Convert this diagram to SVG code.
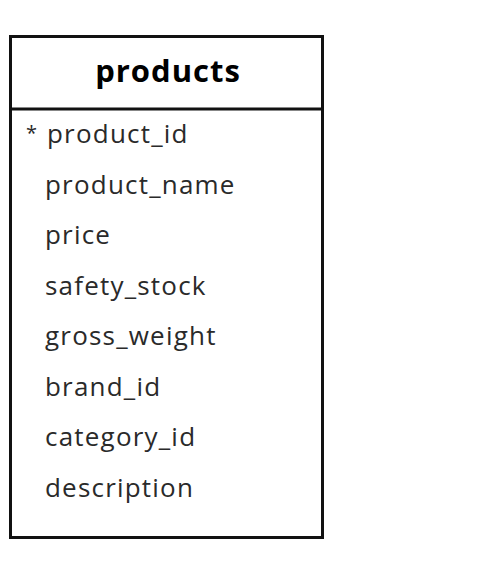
<svg xmlns="http://www.w3.org/2000/svg" width="490" height="568" viewBox="0 0 490 568">
<style>
.box{fill:#fff;stroke:#111;stroke-width:3}
.title{font-family:"Open Sans","Noto Sans",sans-serif;font-weight:bold;font-size:31px;letter-spacing:1px;fill:#000;text-anchor:middle}
.col{font-family:"Open Sans","Noto Sans",sans-serif;font-size:26px;letter-spacing:1.2px;fill:#2a2a2a}
.star{font-size:20px}
</style>
<rect width="490" height="568" fill="#fff"/>
<g id="products">
<rect class="box" x="10.5" y="36.5" width="312" height="501"/>
<line class="box" x1="10.5" y1="109" x2="322.5" y2="109"/>
<text class="title" x="168" y="82">products</text>
<text class="col" x="26" y="140"><tspan class="star">*</tspan><tspan x="47" y="143">product_id</tspan></text>
<text class="col" x="45" y="193.5">product_name</text>
<text class="col" x="45" y="244">price</text>
<text class="col" x="45" y="294.5">safety_stock</text>
<text class="col" x="45" y="345">gross_weight</text>
<text class="col" x="45" y="395.5">brand_id</text>
<text class="col" x="45" y="446">category_id</text>
<text class="col" x="45" y="497">description</text>
</g>
</svg>
